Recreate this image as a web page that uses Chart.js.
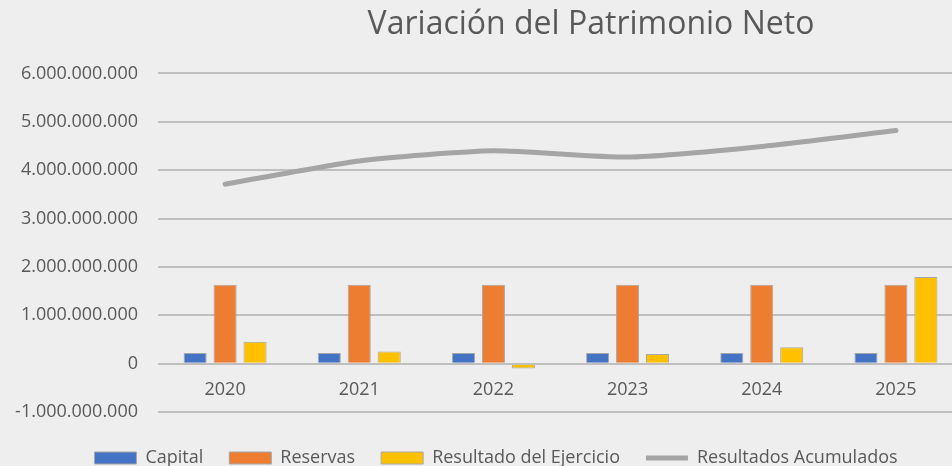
<!DOCTYPE html>
<html>
<head>
<meta charset="utf-8">
<script src="https://cdn.jsdelivr.net/npm/chart.js@4.4.1/dist/chart.umd.min.js"></script>
<style>
  html, body { margin: 0; padding: 0; background: #eeeeee; overflow: hidden; }
  #wrap { width: 992px; height: 466px; }
</style>
</head>
<body>
<div id="wrap"><canvas id="chart" width="992" height="466"></canvas></div>
<script>
// data
const years = ["2020", "2021", "2022", "2023", "2024", "2025"];
const capital = [220000000, 220000000, 220000000, 220000000, 220000000, 220000000];
const reservas = [1630000000, 1630000000, 1630000000, 1630000000, 1630000000, 1630000000];
const resultadoEjercicio = [450000000, 250000000, -100000000, 200000000, 340000000, 1790000000];
const resultadosAcumulados = [3710000000, 4190000000, 4400000000, 4270000000, 4490000000, 4820000000];

const yTicks = [-1000000000, 6000000000, 1000000000]; // min, max, step

// 1234567 -> 1.234.567
function fmt(v) {
  return String(v).replace(/\B(?=(\d{3})+(?!\d))/g, ".");
}

Chart.defaults.font.family = "'Open Sans', sans-serif";
Chart.defaults.color = "#595959";

// move title and legend to where Excel had them
const nudge = {
  id: "nudge",
  afterLayout(chart) {
    const t = chart.titleBlock;
    const dt = 591 - (t.left + t.right) / 2;
    t.left += dt; t.right += dt;
    const l = chart.legend;
    const dl = 496 - (l.left + l.right) / 2;
    l.left += dl; l.right += dl;
    l.top += 11; l.bottom += 11;
  }
};

const barBorder = "#a6a6a6";

new Chart(document.getElementById("chart"), {
  type: "bar",
  data: {
    labels: years,
    datasets: [
      {
        label: "Capital",
        data: capital,
        backgroundColor: "#4472c4",
        borderColor: barBorder,
        borderWidth: 1,
        pointStyle: "rect"
      },
      {
        label: "Reservas",
        data: reservas,
        backgroundColor: "#ed7d31",
        borderColor: barBorder,
        borderWidth: 1,
        pointStyle: "rect"
      },
      {
        label: "Resultado del Ejercicio",
        data: resultadoEjercicio,
        backgroundColor: "#ffc000",
        borderColor: barBorder,
        borderWidth: 1,
        pointStyle: "rect"
      },
      {
        type: "line",
        label: "Resultados Acumulados",
        data: resultadosAcumulados,
        borderColor: "#a5a5a5",
        backgroundColor: "#a5a5a5",
        borderWidth: 5,
        borderCapStyle: "round",
        tension: 0.2,
        pointRadius: 0,
        pointHoverRadius: 0,
        pointBorderWidth: 5,
        pointStyle: "line"
      }
    ]
  },
  options: {
    responsive: false,
    animation: false,
    devicePixelRatio: 1,
    events: [],
    categoryPercentage: 0.67,
    barPercentage: 0.77,
    layout: { padding: { left: 0, right: 29, top: 0, bottom: 0 } },
    plugins: {
      title: {
        display: true,
        text: "Variación del Patrimonio Neto",
        color: "#595959",
        font: { size: 32, weight: "normal" },
        padding: { top: 6, bottom: 29 }
      },
      legend: {
        position: "bottom",
        labels: {
          usePointStyle: true,
          pointStyleWidth: 42,
          boxHeight: 12,
          padding: 26,
          color: "#595959",
          font: { size: 18 }
        }
      },
      tooltip: { enabled: false }
    },
    scales: {
      x: {
        position: { y: 0 },
        offset: true,
        grid: { display: false, drawTicks: false },
        border: { display: false },
        ticks: { padding: 15, font: { size: 18 }, color: "#595959" }
      },
      y: {
        min: yTicks[0],
        max: yTicks[1],
        ticks: {
          stepSize: yTicks[2],
          padding: 20,
          font: { size: 18 },
          color: "#595959",
          callback: v => fmt(v)
        },
        grid: { color: "#bfbfbf", lineWidth: 2, drawTicks: false },
        border: { display: false },
        afterFit: a => { a.width = 158; }
      }
    }
  },
  plugins: [nudge]
});
</script>
</body>
</html>
